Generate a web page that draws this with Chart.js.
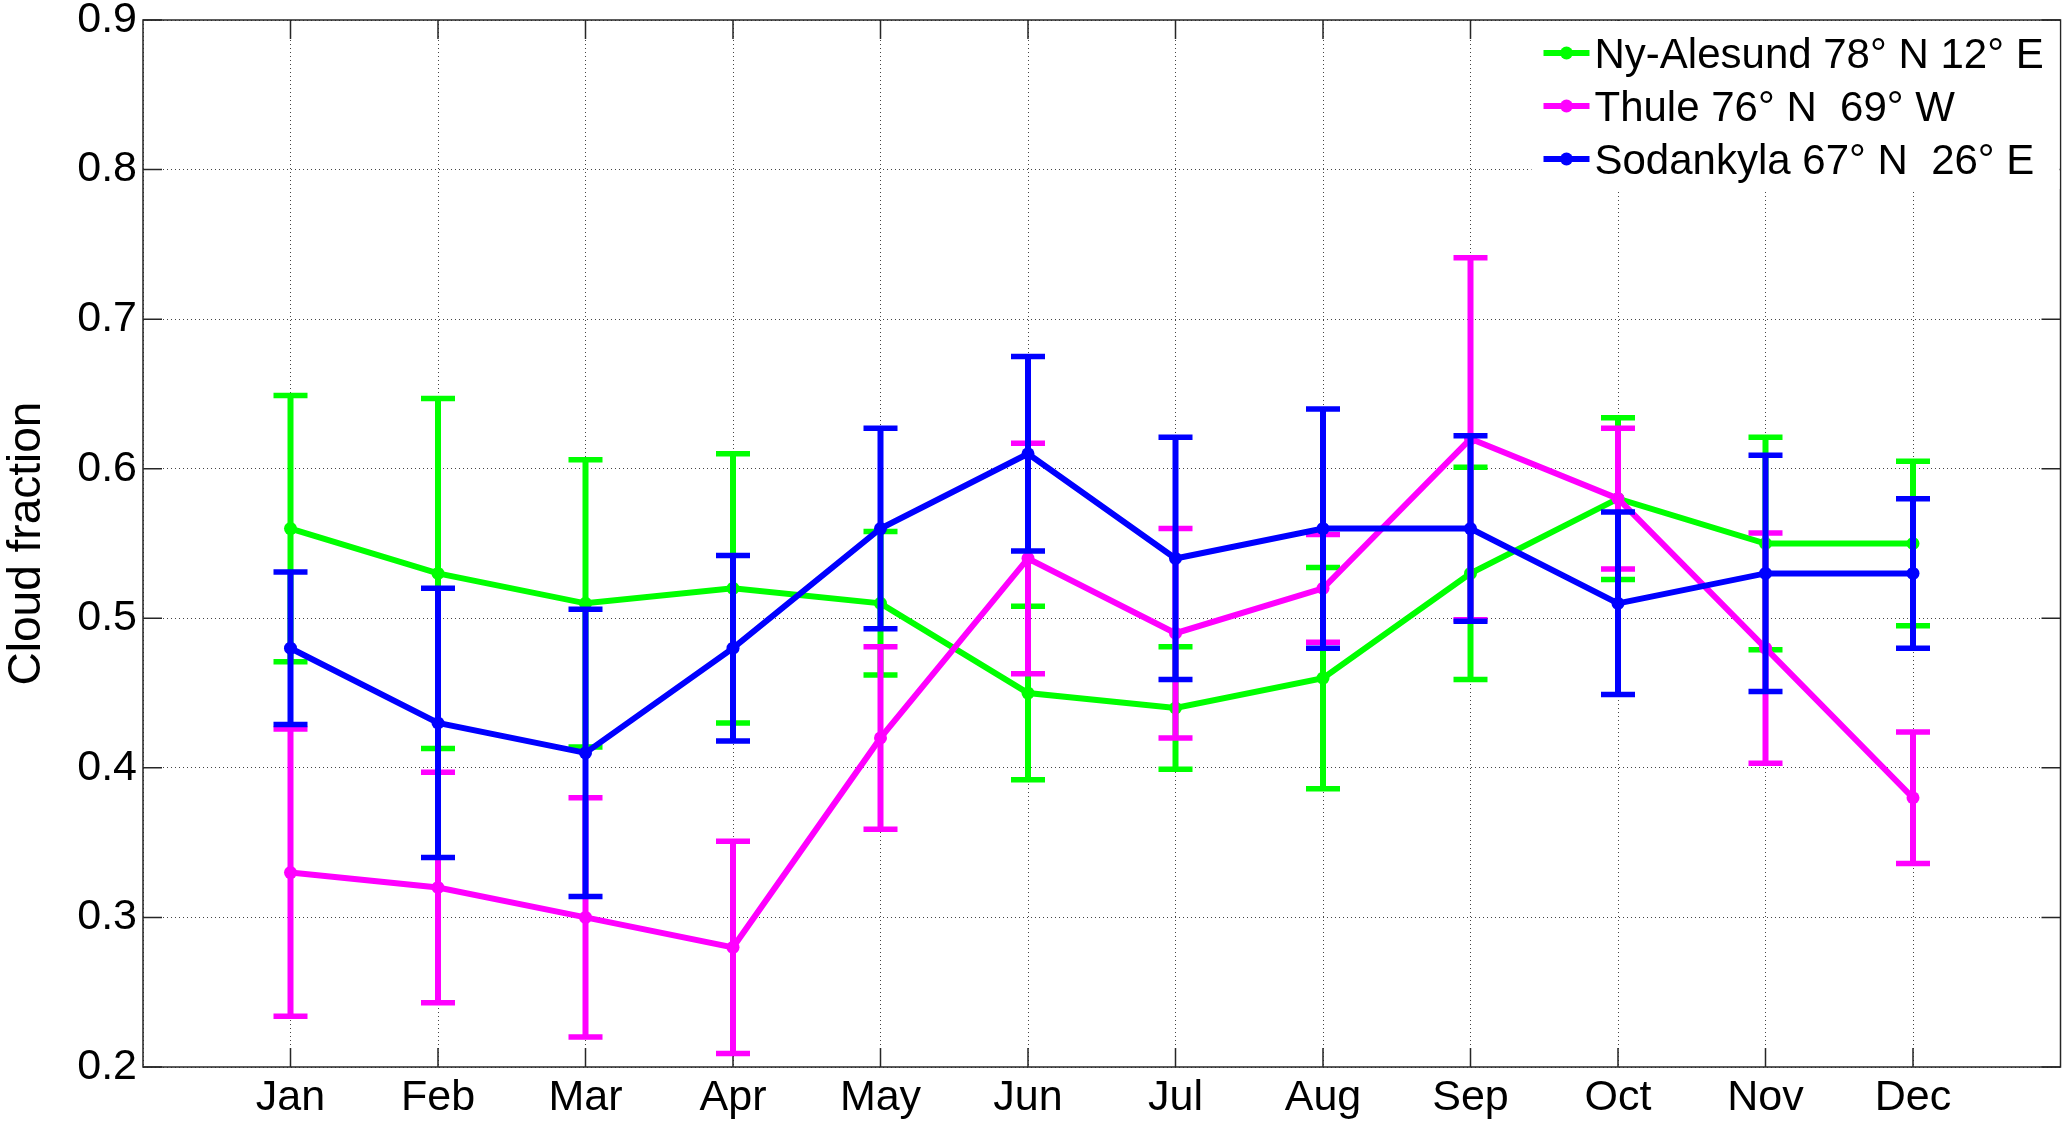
<!DOCTYPE html>
<html>
<head>
<meta charset="utf-8">
<script src="https://cdn.jsdelivr.net/npm/chart.js@4.4.1/dist/chart.umd.min.js"></script>
<style>
  html, body { margin: 0; padding: 0; background: #fff; }
</style>
</head>
<body>
<canvas id="myChart" width="2067" height="1124"></canvas>
<script>
// months on the x axis (placed at 1..12, axis runs 0..13)
const months = ["Jan", "Feb", "Mar", "Apr", "May", "Jun", "Jul", "Aug", "Sep", "Oct", "Nov", "Dec"];
const yTickValues = [0.2, 0.3, 0.4, 0.5, 0.6, 0.7, 0.8, 0.9];

const seriesNames = ["Ny-Alesund 78\u00b0 N 12\u00b0 E", "Thule 76\u00b0 N  69\u00b0 W", "Sodankyla 67\u00b0 N  26\u00b0 E"];
const seriesColors = ["#00ff00", "#ff00ff", "#0000ff"];

// monthly mean cloud fraction and error bar half-length
const nyAlesund    = [0.56, 0.53, 0.51, 0.52, 0.51, 0.45, 0.44, 0.46, 0.53, 0.58, 0.55, 0.55];
const nyAlesundErr = [0.089, 0.117, 0.096, 0.090, 0.048, 0.058, 0.041, 0.074, 0.071, 0.054, 0.071, 0.055];
const thule        = [0.33, 0.32, 0.30, 0.28, 0.42, 0.54, 0.49, 0.52, 0.62, 0.58, 0.48, 0.38];
const thuleErr     = [0.096, 0.077, 0.080, 0.071, 0.061, 0.077, 0.070, 0.036, 0.121, 0.047, 0.077, 0.044];
const sodankyla    = [0.48, 0.43, 0.41, 0.48, 0.56, 0.61, 0.54, 0.56, 0.56, 0.51, 0.53, 0.53];
const sodankylaErr = [0.051, 0.090, 0.096, 0.062, 0.067, 0.065, 0.081, 0.080, 0.062, 0.061, 0.079, 0.050];

const FONT = '"Liberation Sans", Arial, sans-serif';

function toPoints(vals) {
  return vals.map(function (v, i) { return { x: i + 1, y: v }; });
}

function makeSet(idx, vals, errs, order) {
  return {
    label: seriesNames[idx],
    data: toPoints(vals),
    errors: errs,
    borderColor: seriesColors[idx],
    backgroundColor: seriesColors[idx],
    pointBackgroundColor: seriesColors[idx],
    pointBorderWidth: 0,
    pointRadius: 6.5,
    borderWidth: 6,
    tension: 0,
    order: order
  };
}

// error bars, drawn right after each line so the layering follows the series
const errorBars = {
  id: "errorBars",
  afterDatasetDraw(chart, args) {
    const ds = chart.data.datasets[args.index];
    const xs = chart.scales.x, ys = chart.scales.y;
    const ctx = chart.ctx;
    ctx.save();
    ctx.strokeStyle = ds.borderColor;
    ctx.lineCap = "butt";
    ds.data.forEach(function (p, i) {
      const x = xs.getPixelForValue(p.x);
      const yHi = ys.getPixelForValue(p.y + ds.errors[i]);
      const yLo = ys.getPixelForValue(p.y - ds.errors[i]);
      ctx.lineWidth = 6;
      ctx.beginPath();
      ctx.moveTo(x, yHi);
      ctx.lineTo(x, yLo);
      ctx.stroke();
      ctx.lineWidth = 5.5;
      ctx.beginPath();
      ctx.moveTo(x - 17, yHi); ctx.lineTo(x + 17, yHi);
      ctx.moveTo(x - 17, yLo); ctx.lineTo(x + 17, yLo);
      ctx.stroke();
    });
    ctx.restore();
  }
};

// matlab style box with inward ticks on all four sides
const axesBox = {
  id: "axesBox",
  beforeDatasetsDraw(chart) {
    const ctx = chart.ctx, a = chart.chartArea;
    const xs = chart.scales.x, ys = chart.scales.y;
    const len = 19;
    ctx.save();
    ctx.strokeStyle = "#262626";
    ctx.lineWidth = 1.5;
    ctx.strokeRect(a.left, a.top, a.right - a.left, a.bottom - a.top);
    ctx.beginPath();
    for (let m = 1; m <= months.length; m++) {
      const px = xs.getPixelForValue(m);
      ctx.moveTo(px, a.bottom); ctx.lineTo(px, a.bottom - len);
      ctx.moveTo(px, a.top); ctx.lineTo(px, a.top + len);
    }
    yTickValues.forEach(function (v) {
      const py = ys.getPixelForValue(v);
      ctx.moveTo(a.left, py); ctx.lineTo(a.left + len, py);
      ctx.moveTo(a.right, py); ctx.lineTo(a.right - len, py);
    });
    ctx.stroke();
    ctx.restore();
  }
};

// legend in the top right corner, white box without border
const boxLegend = {
  id: "boxLegend",
  afterDraw(chart) {
    const ctx = chart.ctx, a = chart.chartArea;
    const left = a.right - 529;
    ctx.save();
    ctx.fillStyle = "#fff";
    ctx.fillRect(left, a.top + 1, a.right - left - 1, 168);
    ctx.font = "42px " + FONT;
    ctx.textBaseline = "alphabetic";
    chart.data.datasets.forEach(function (ds, i) {
      const base = a.top + 48 + i * 53;
      const ly = base - 15;
      ctx.strokeStyle = ds.borderColor;
      ctx.lineWidth = 6;
      ctx.beginPath();
      ctx.moveTo(left + 12, ly);
      ctx.lineTo(left + 58, ly);
      ctx.stroke();
      ctx.fillStyle = ds.borderColor;
      ctx.beginPath();
      ctx.arc(left + 35, ly, 6.5, 0, Math.PI * 2);
      ctx.fill();
      ctx.fillStyle = "#000";
      ctx.fillText(ds.label, left + 63, base);
    });
    ctx.restore();
  }
};

const ctx = document.getElementById("myChart");

new Chart(ctx, {
  type: "line",
  data: {
    datasets: [
      makeSet(0, nyAlesund, nyAlesundErr, 3),
      makeSet(1, thule, thuleErr, 2),
      makeSet(2, sodankyla, sodankylaErr, 1)
    ]
  },
  plugins: [axesBox, errorBars, boxLegend],
  options: {
    responsive: false,
    animation: false,
    devicePixelRatio: 1,
    layout: { padding: { top: 20, right: 6, left: 0, bottom: 0 } },
    plugins: {
      legend: { display: false },
      tooltip: { enabled: false }
    },
    scales: {
      x: {
        type: "linear",
        min: 0,
        max: months.length + 1,
        ticks: {
          stepSize: 1,
          autoSkip: false,
          maxRotation: 0,
          padding: 5,
          color: "#000",
          font: { family: FONT, size: 43 },
          callback: function (v) { return months[v - 1] || ""; }
        },
        grid: { color: "#444", lineWidth: 1, drawTicks: false },
        border: { display: false, dash: [1, 3] },
        afterFit: function (s) { s.height = 57; s.paddingLeft = 0; s.paddingRight = 0; }
      },
      y: {
        min: 0.2,
        max: 0.9,
        ticks: {
          stepSize: 0.1,
          padding: 6,
          color: "#000",
          font: { family: FONT, size: 43 },
          callback: function (v) { return v.toFixed(1); }
        },
        grid: { color: "#444", lineWidth: 1, drawTicks: false },
        border: { display: false, dash: [1, 3] },
        title: {
          display: true,
          text: "Cloud fraction",
          color: "#000",
          font: { family: FONT, size: 46 },
          padding: { top: 0, bottom: 0 }
        },
        afterFit: function (s) { s.width = 143; s.paddingTop = 0; s.paddingBottom = 0; }
      }
    }
  }
});
</script>
</body>
</html>
